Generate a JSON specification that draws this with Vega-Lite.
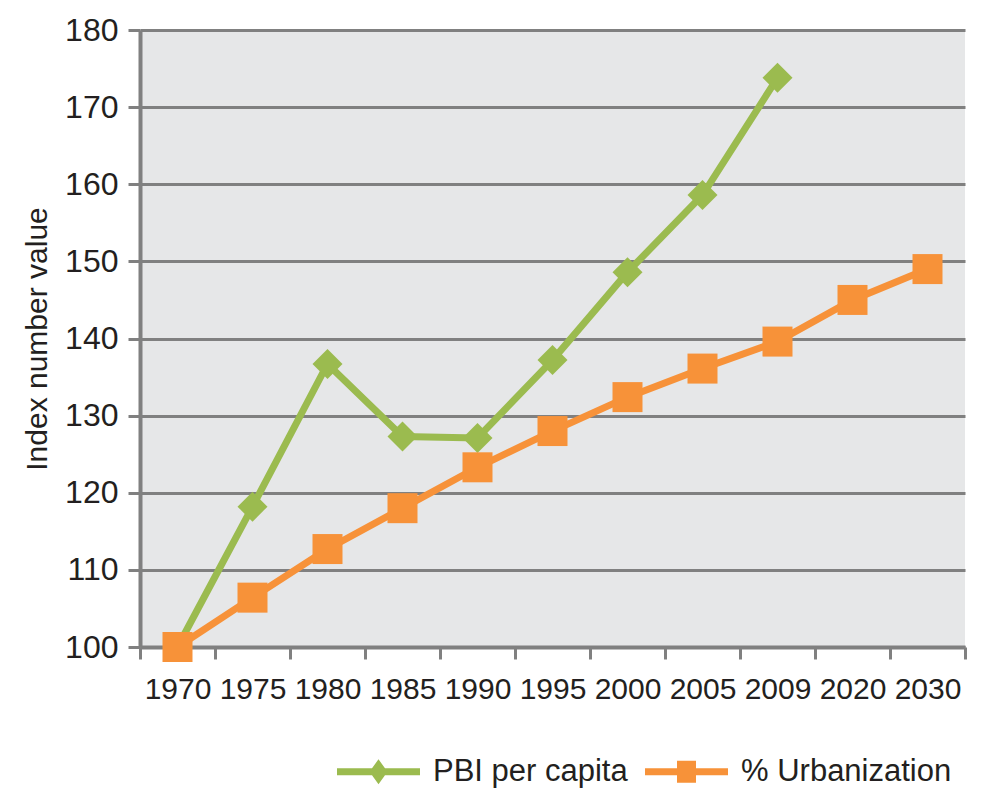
{
  "$schema": "https://vega.github.io/schema/vega-lite/v6.json",
  "autosize": {"type": "none"},
  "width": 825,
  "height": 617,
  "padding": {"left": 140, "top": 30, "right": 16, "bottom": 143},
  "background": "white",
  "config": {
    "view": {"fill": "#e6e7e8", "stroke": null},
    "font": "Liberation Sans",
    "axis": {
      "labelFont": "Liberation Sans",
      "titleFont": "Liberation Sans",
      "labelColor": "#231f20",
      "titleColor": "#231f20",
      "domainColor": "#808080",
      "tickColor": "#808080",
      "gridColor": "#808080"
    },
    "legend": {
      "labelFont": "Liberation Sans",
      "labelColor": "#231f20"
    }
  },
  "data": {
    "values": [
      {"year": "1970", "series": "PBI per capita", "value": 100.0},
      {"year": "1975", "series": "PBI per capita", "value": 118.2},
      {"year": "1980", "series": "PBI per capita", "value": 136.7},
      {"year": "1985", "series": "PBI per capita", "value": 127.3},
      {"year": "1990", "series": "PBI per capita", "value": 127.1},
      {"year": "1995", "series": "PBI per capita", "value": 137.2},
      {"year": "2000", "series": "PBI per capita", "value": 148.6},
      {"year": "2005", "series": "PBI per capita", "value": 158.6},
      {"year": "2009", "series": "PBI per capita", "value": 173.8},
      {"year": "1970", "series": "% Urbanization", "value": 100.0},
      {"year": "1975", "series": "% Urbanization", "value": 106.4},
      {"year": "1980", "series": "% Urbanization", "value": 112.7},
      {"year": "1985", "series": "% Urbanization", "value": 118.0},
      {"year": "1990", "series": "% Urbanization", "value": 123.3},
      {"year": "1995", "series": "% Urbanization", "value": 128.0},
      {"year": "2000", "series": "% Urbanization", "value": 132.4},
      {"year": "2005", "series": "% Urbanization", "value": 136.1},
      {"year": "2009", "series": "% Urbanization", "value": 139.6},
      {"year": "2020", "series": "% Urbanization", "value": 145.0},
      {"year": "2030", "series": "% Urbanization", "value": 149.0}
    ]
  },
  "encoding": {
    "x": {
      "field": "year",
      "type": "ordinal",
      "bandPosition": 0.5,
      "scale": {"type": "band", "paddingInner": 0, "paddingOuter": 0,
        "domain": ["1970","1975","1980","1985","1990","1995","2000","2005","2009","2020","2030"]},
      "axis": {
        "title": null,
        "labelAngle": 0,
        "labelFontSize": 30,
        "labelPadding": 15,
        "tickBand": "extent",
        "tickSize": 12,
        "tickWidth": 3,
        "domainWidth": 4,
        "grid": false
      }
    },
    "y": {
      "field": "value",
      "type": "quantitative",
      "scale": {"domain": [100, 180], "nice": false, "zero": false},
      "axis": {
        "title": "Index number value",
        "titleFontSize": 30,
        "titleFontWeight": "normal",
        "titlePadding": 12,
        "values": [100, 110, 120, 130, 140, 150, 160, 170, 180],
        "labelFontSize": 32,
        "labelPadding": 10,
        "tickSize": 12,
        "tickWidth": 3,
        "domainWidth": 4,
        "grid": true,
        "gridWidth": 3
      }
    },
    "color": {
      "field": "series",
      "type": "nominal",
      "scale": {"domain": ["PBI per capita", "% Urbanization"], "range": ["#9bbb4f", "#f79239"]},
      "legend": {
        "title": null,
        "orient": "none",
        "direction": "horizontal",
        "legendX": 223,
        "legendY": 726,
        "labelFontSize": 31,
        "labelLimit": 400,
        "symbolSize": 400,
        "symbolStrokeWidth": 0,
        "labelOffset": 39,
        "columnPadding": 17,
        "symbolOpacity": 1,
        "encode": {
          "symbols": {
            "update": {
              "shape": {"signal": "datum.value === 'PBI per capita' ? 'M-4.15,-0.35H4.15V0.35H-4.15Z M0,-1.25L0.9,0L0,1.25L-0.9,0Z' : 'M-4.15,-0.35H4.15V0.35H-4.15Z M-0.95,-1.1H0.95V1.1H-0.95Z'"},
              "fillOpacity": {"value": 1},
              "strokeWidth": {"value": 0}
            }
          }
        }
      }
    }
  },
  "layer": [
    {
      "mark": {"type": "line", "strokeWidth": 7},
      "encoding": {}
    },
    {
      "mark": {"type": "point", "filled": true, "opacity": 1, "size": 900},
      "encoding": {
        "shape": {
          "condition": {"test": "datum.series === 'PBI per capita'", "value": "diamond"},
          "value": "square"
        }
      }
    }
  ]
}
